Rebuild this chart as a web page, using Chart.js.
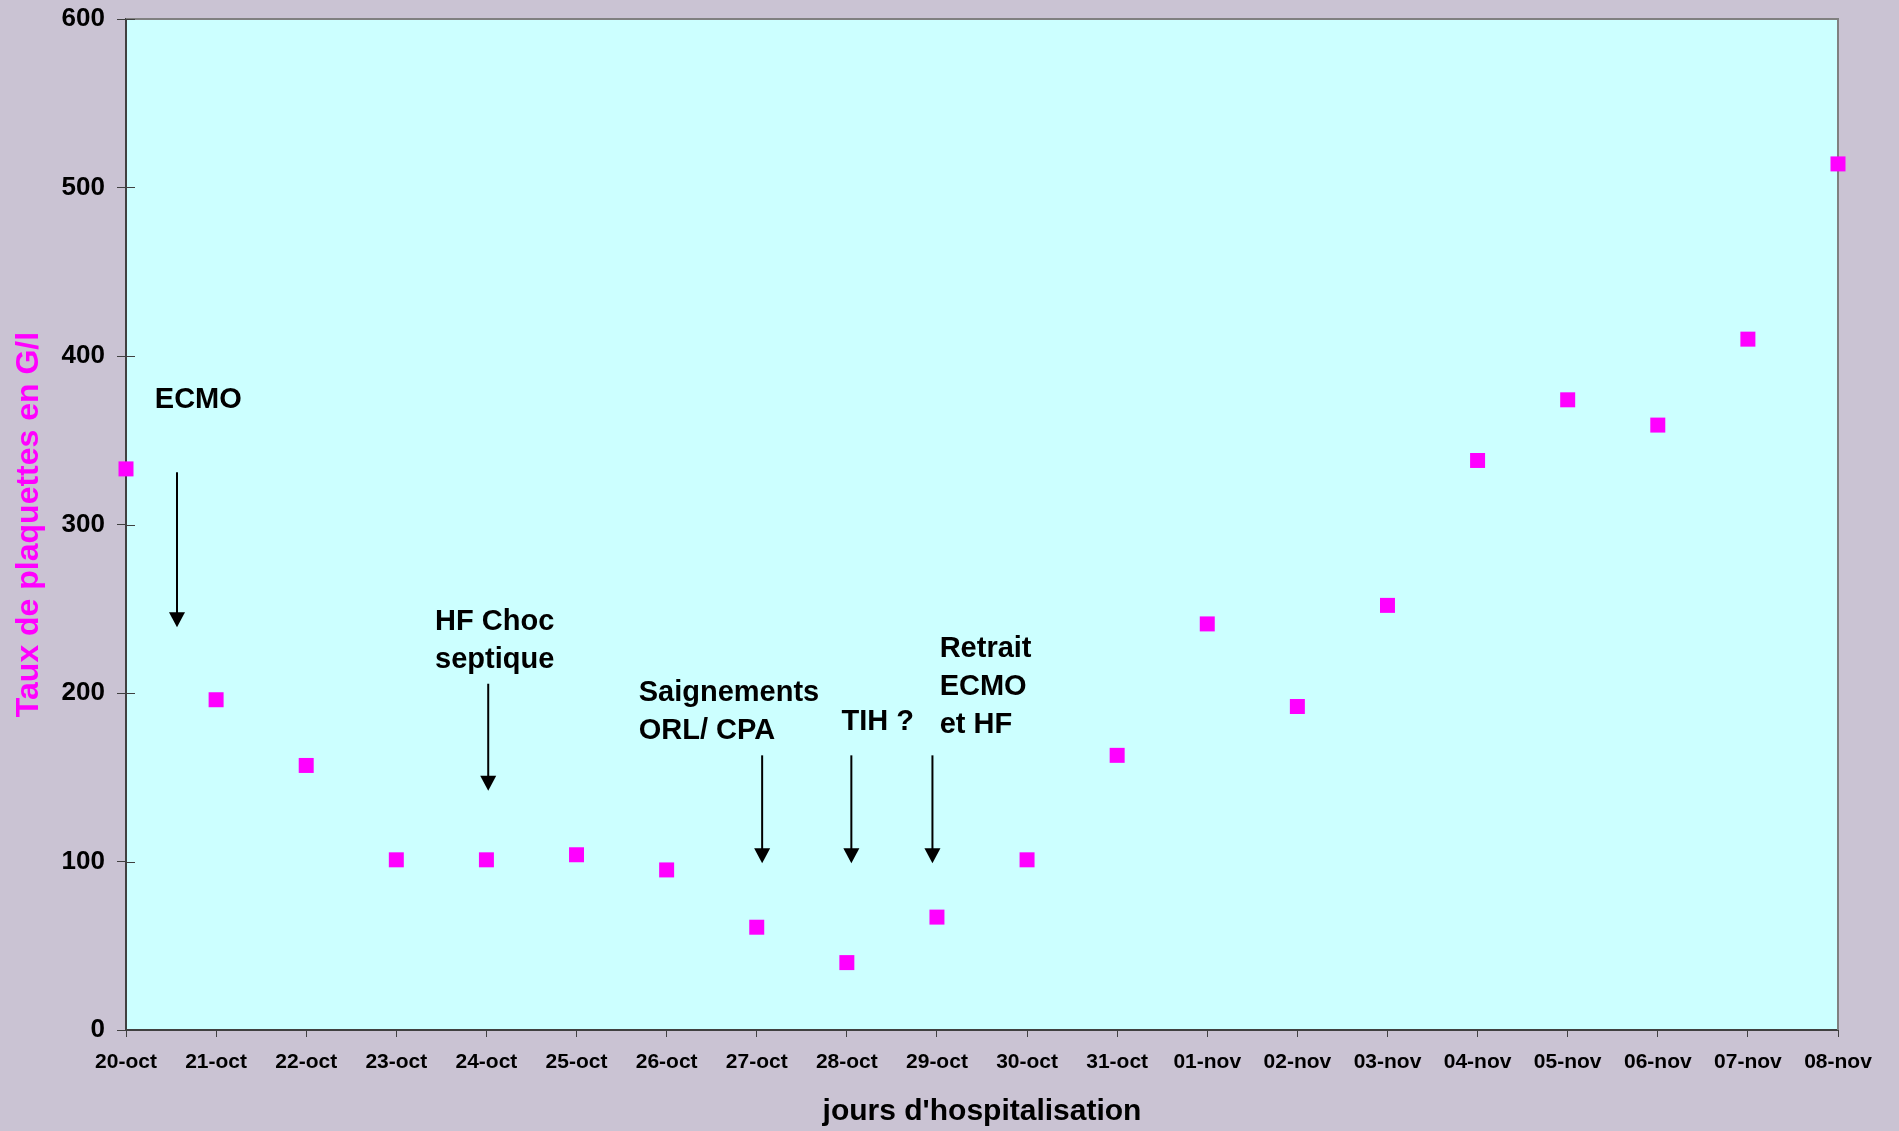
<!DOCTYPE html>
<html>
<head>
<meta charset="utf-8">
<title>Taux de plaquettes</title>
<script src="https://cdn.jsdelivr.net/npm/chart.js@4/dist/chart.umd.min.js"></script>
<style>
  html, body { margin: 0; padding: 0; background: #cac3d3; }
  #wrap { width: 1899px; height: 1131px; position: relative; }
</style>
</head>
<body>
<div id="wrap"><canvas id="chart"></canvas></div>
<script>
// days of hospitalisation
const days = ["20-oct", "21-oct", "22-oct", "23-oct", "24-oct", "25-oct", "26-oct", "27-oct",
  "28-oct", "29-oct", "30-oct", "31-oct", "01-nov", "02-nov", "03-nov", "04-nov",
  "05-nov", "06-nov", "07-nov", "08-nov"];

// platelet count (G/l)
const platelets = [333, 196, 157, 101, 101, 104, 95, 61, 40, 67, 101, 163, 241, 192, 252, 338, 374, 359, 410, 514];

const yTicks = [0, 100, 200, 300, 400, 500, 600];

// event notes: text lines, left edge (day index), first baseline (G/l)
const noteText = [["ECMO"], ["HF Choc", "septique"], ["Saignements", "ORL/ CPA"], ["TIH ?"], ["Retrait", "ECMO", "et HF"]];
const noteX = [0.32, 3.43, 5.69, 7.94, 9.03];
const noteY = [369, 237.5, 195, 178, 221.5];

// arrows: day index, from / to (G/l)
const arrowX = [0.566, 4.02, 7.06, 8.05, 8.95];
const arrowFrom = [331, 205.5, 163, 163, 163];
const arrowTo = [239, 142, 99, 99, 99];

const FONT = "'Liberation Sans', Arial, sans-serif";

const framePlugin = {
  id: "frame",
  beforeDraw(chart) {
    const { ctx, chartArea: a } = chart;
    ctx.save();
    ctx.fillStyle = "#cac3d3";
    ctx.fillRect(0, 0, chart.width, chart.height);
    ctx.fillStyle = "#ccffff";
    ctx.fillRect(a.left, a.top, a.right - a.left, a.bottom - a.top);
    ctx.restore();
  },
  beforeDatasetsDraw(chart) {
    const { ctx, chartArea: a, scales } = chart;
    ctx.save();
    // top and right border
    ctx.strokeStyle = "#808080";
    ctx.lineWidth = 2;
    ctx.beginPath();
    ctx.moveTo(a.left, a.top);
    ctx.lineTo(a.right, a.top);
    ctx.lineTo(a.right, a.bottom);
    ctx.stroke();
    // inner half of y ticks
    ctx.strokeStyle = "#404040";
    ctx.lineWidth = 1;
    yTicks.forEach(v => {
      const y = Math.round(scales.y.getPixelForValue(v)) + 0.5;
      ctx.beginPath();
      ctx.moveTo(a.left, y);
      ctx.lineTo(a.left + 9, y);
      ctx.stroke();
    });
    ctx.restore();
  },
  afterDatasetsDraw(chart) {
    const { ctx, scales } = chart;
    ctx.save();
    ctx.fillStyle = "#000";
    ctx.strokeStyle = "#000";
    ctx.font = "bold 29px " + FONT;
    ctx.textAlign = "left";
    ctx.textBaseline = "alphabetic";
    noteText.forEach((lines, i) => {
      const x = scales.x.getPixelForValue(noteX[i]);
      const y0 = scales.y.getPixelForValue(noteY[i]);
      lines.forEach((t, j) => ctx.fillText(t, x, y0 + j * 38));
    });
    arrowX.forEach((v, i) => {
      const x = scales.x.getPixelForValue(v);
      const y1 = scales.y.getPixelForValue(arrowFrom[i]);
      const y2 = scales.y.getPixelForValue(arrowTo[i]);
      ctx.lineWidth = 2;
      ctx.beginPath();
      ctx.moveTo(x, y1);
      ctx.lineTo(x, y2 - 12);
      ctx.stroke();
      ctx.beginPath();
      ctx.moveTo(x - 8, y2 - 15);
      ctx.lineTo(x + 8, y2 - 15);
      ctx.lineTo(x, y2);
      ctx.closePath();
      ctx.fill();
    });
    ctx.restore();
  }
};

new Chart(document.getElementById("chart"), {
  type: "line",
  data: {
    labels: days,
    datasets: [{
      label: "Taux de plaquettes",
      data: platelets,
      showLine: false,
      pointStyle: "rect",
      pointRadius: 10.6,
      pointHoverRadius: 10.6,
      pointBackgroundColor: "#ff00ff",
      pointBorderColor: "#ff00ff",
      pointBorderWidth: 0,
      clip: false
    }]
  },
  options: {
    responsive: true,
    maintainAspectRatio: false,
    animation: false,
    events: [],
    layout: { padding: { top: 19, right: 61, left: 0, bottom: 0 } },
    plugins: {
      legend: { display: false },
      tooltip: { enabled: false }
    },
    scales: {
      x: {
        offset: false,
        afterFit(scale) { scale.height = 101; },
        grid: { drawOnChartArea: false, tickLength: 7, color: "#404040", lineWidth: 1 },
        border: { color: "#404040", width: 2 },
        ticks: {
          autoSkip: false,
          maxRotation: 0,
          padding: 13,
          color: "#000",
          font: { family: FONT, size: 21, weight: "bold" }
        },
        title: {
          display: true,
          text: "jours d'hospitalisation",
          color: "#000",
          padding: { top: 0, bottom: 1 },
          font: { family: FONT, size: 30, weight: "bold" }
        }
      },
      y: {
        min: 0,
        max: 600,
        afterFit(scale) {
          scale.width = 126;
          scale.paddingTop = 0;
          scale.paddingBottom = 0;
        },
        afterBuildTicks(scale) { scale.ticks = yTicks.map(v => ({ value: v })); },
        grid: { drawOnChartArea: false, tickLength: 9, color: "#404040", lineWidth: 1 },
        border: { color: "#404040", width: 2 },
        ticks: {
          padding: 12,
          color: "#000",
          font: { family: FONT, size: 26, weight: "bold" }
        },
        title: {
          display: true,
          text: "Taux de plaquettes en G/l",
          color: "#ff00ff",
          padding: { top: 10, bottom: 0 },
          font: { family: FONT, size: 32, weight: "bold" }
        }
      }
    }
  },
  plugins: [framePlugin]
});
</script>
</body>
</html>
